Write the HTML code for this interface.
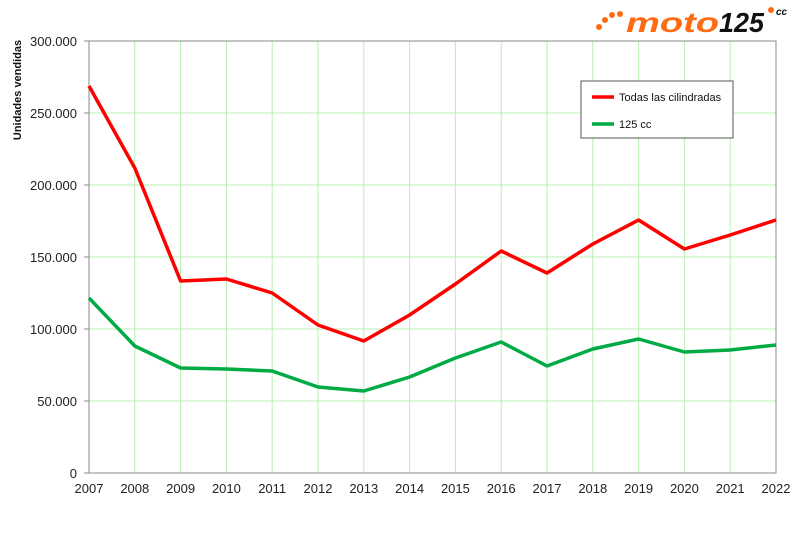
<!DOCTYPE html><html><head><style>body{margin:0;background:#fff}svg{display:block}text{font-family:"Liberation Sans",sans-serif}</style></head><body>
<svg width="800" height="533" xmlns="http://www.w3.org/2000/svg">
<g stroke="#b8f0b0" stroke-width="1">
<line x1="134.8" y1="41" x2="134.8" y2="473"/><line x1="180.6" y1="41" x2="180.6" y2="473"/><line x1="226.4" y1="41" x2="226.4" y2="473"/><line x1="272.2" y1="41" x2="272.2" y2="473"/><line x1="318" y1="41" x2="318" y2="473"/><line x1="363.8" y1="41" x2="363.8" y2="473"/><line x1="409.6" y1="41" x2="409.6" y2="473"/><line x1="455.4" y1="41" x2="455.4" y2="473"/><line x1="501.2" y1="41" x2="501.2" y2="473"/><line x1="547" y1="41" x2="547" y2="473"/><line x1="592.8" y1="41" x2="592.8" y2="473"/><line x1="638.6" y1="41" x2="638.6" y2="473"/><line x1="684.4" y1="41" x2="684.4" y2="473"/><line x1="730.2" y1="41" x2="730.2" y2="473"/>
<line x1="89" y1="113" x2="776" y2="113"/><line x1="89" y1="185" x2="776" y2="185"/><line x1="89" y1="257" x2="776" y2="257"/><line x1="89" y1="329" x2="776" y2="329"/><line x1="89" y1="401" x2="776" y2="401"/>
</g>
<rect x="89" y="41" width="687" height="432" fill="none" stroke="#888" stroke-width="1"/>
<g stroke="#888"><line x1="84" y1="41" x2="89" y2="41"/><line x1="84" y1="113" x2="89" y2="113"/><line x1="84" y1="185" x2="89" y2="185"/><line x1="84" y1="257" x2="89" y2="257"/><line x1="84" y1="329" x2="89" y2="329"/><line x1="84" y1="401" x2="89" y2="401"/><line x1="84" y1="473" x2="89" y2="473"/></g>
<g font-size="13" fill="#222" text-anchor="end">
<text x="77" y="46">300.000</text><text x="77" y="118">250.000</text><text x="77" y="190">200.000</text><text x="77" y="262">150.000</text><text x="77" y="334">100.000</text><text x="77" y="406">50.000</text><text x="77" y="478">0</text></g>
<g font-size="13" fill="#222" text-anchor="middle">
<text x="89" y="493">2007</text><text x="134.8" y="493">2008</text><text x="180.6" y="493">2009</text><text x="226.4" y="493">2010</text><text x="272.2" y="493">2011</text><text x="318" y="493">2012</text><text x="363.8" y="493">2013</text><text x="409.6" y="493">2014</text><text x="455.4" y="493">2015</text><text x="501.2" y="493">2016</text><text x="547" y="493">2017</text><text x="592.8" y="493">2018</text><text x="638.6" y="493">2019</text><text x="684.4" y="493">2020</text><text x="730.2" y="493">2021</text><text x="776" y="493">2022</text></g>
<text transform="translate(21,90) rotate(-90)" font-size="11" font-weight="bold" text-anchor="middle" fill="#111">Unidades vendidas</text>
<polyline fill="none" stroke="#f00" stroke-width="3.5" stroke-linejoin="round" points="89,86 134.8,168 180.6,281 226.4,279 272.2,293 318,325 363.8,341 409.6,315 455.4,284 501.2,251 547,273 592.8,244 638.6,220 684.4,249 730.2,235 776,220"/>
<polyline fill="none" stroke="#00aa44" stroke-width="3.5" stroke-linejoin="round" points="89,298 134.8,346 180.6,368 226.4,369 272.2,371 318,387 363.8,391 409.6,377 455.4,358 501.2,342 547,366 592.8,349 638.6,339 684.4,352 730.2,350 776,345"/>
<rect x="581" y="81" width="152" height="57" fill="#fff" stroke="#555"/>
<line x1="592" y1="97" x2="614" y2="97" stroke="#f00" stroke-width="3.5"/>
<text x="619" y="101" font-size="11" fill="#111">Todas las cilindradas</text>
<line x1="592" y1="124" x2="614" y2="124" stroke="#00aa44" stroke-width="3.5"/>
<text x="619" y="128" font-size="11" fill="#111">125 cc</text>
<g fill="#ff6a13"><circle cx="599" cy="27" r="3"/><circle cx="605" cy="20" r="3"/><circle cx="612" cy="15" r="3"/><circle cx="620" cy="14" r="3"/></g>
<text x="626" y="32" font-size="28" font-weight="bold" font-style="italic" fill="#ff6a13" textLength="93" lengthAdjust="spacingAndGlyphs">moto</text>
<text x="719" y="32" font-size="28" font-weight="bold" font-style="italic" fill="#111" textLength="45" lengthAdjust="spacingAndGlyphs">125</text>
<circle cx="771" cy="10" r="3" fill="#ff6a13"/>
<text x="776" y="15" font-size="10" font-weight="bold" font-style="italic" fill="#111">cc</text>
</svg></body></html>
